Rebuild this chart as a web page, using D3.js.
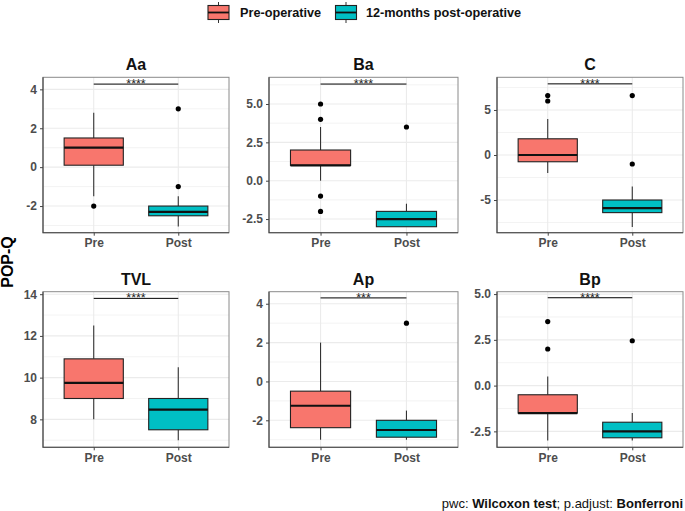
<!DOCTYPE html>
<html><head><meta charset="utf-8">
<script src="https://cdn.jsdelivr.net/npm/d3@7"></script>
<style>body{margin:0;background:#fff}svg{display:block;font-family:"Liberation Sans",Arial,sans-serif}</style>
</head><body><svg id="c" width="685" height="511"></svg>
<script>
// ---- data ----
const panelNames = ["Aa","Ba","C","TVL","Ap","Bp"];
const groups = ["Pre","Post"];
const legendLabels = ["Pre-operative","12-months post-operative"];
const colors = ["#F8766D","#00BFC4"];
// [lowerWhisker, Q1, median, Q3, upperWhisker]
const preStats = [
  [-1.5, 0.1, 1.0, 1.5, 2.8],
  [0, 1, 1, 2, 3.5],
  [-2, -0.75, 0, 1.8, 4],
  [8, 9, 9.75, 10.9, 12.5],
  [-3, -2.38, -1.25, -0.5, 2],
  [-3, -1.5, -1.5, -0.5, 0.5]
];
const postStats = [
  [-3.05, -2.5, -2.3, -2, -1.5],
  [-3, -3, -2.5, -2, -1.5],
  [-8, -6.4, -5.9, -5, -3.5],
  [7, 7.5, 8.47, 9, 10.5],
  [-3, -2.87, -2.5, -2, -1.5],
  [-3, -2.85, -2.5, -2, -1.5]
];
const preOutliers = [[-2],[5,4,-1,-2],[6,6.6],[],[],[3.5,2]];
const postOutliers = [[3,-1],[3.5],[6.6,-1],[],[3],[2.45]];
const yDomains = [[-3.37,4.62],[-3.39,6.74],[-8.63,8.63],[6.66,14.12],[-3.39,4.62],[-3.37,5.13]];
const yTicks = [[-2,0,2,4],[-2.5,0,2.5,5],[-5,0,5],[8,10,12,14],[-2,0,2,4],[-2.5,0,2.5,5]];
const tickFormats = ["d",".1f","d","d","d",".1f"];
const bracketY = [4.27, 6.3, 7.9, 13.8, 4.3, 4.8];
const sigLabels = ["****","****","****","****","***","****"];
const yTitle = "POP-Q";

// ---- layout ----
const svg = d3.select("#c");
const cols = [[43,229],[269,458],[497,683]];
const rows = [[77.3,232.7],[291.7,447.3]];
const grey = "#4D4D4D";

panelNames.forEach((name,i)=>{
  const [x0,x1] = cols[i%3], [y0,y1] = rows[Math.floor(i/3)];
  const x = d3.scaleLinear().domain([0.4,2.6]).range([x0,x1]);
  const y = d3.scaleLinear().domain(yDomains[i]).range([y1,y0]);
  const g = svg.append("g");
  // minor grid
  const t = yTicks[i], step = t[1]-t[0];
  const minor = [];
  for (let v = t[0]-step/2; v <= yDomains[i][1]; v += step) if (v >= yDomains[i][0]) minor.push(v);
  g.selectAll(".mn").data(minor).join("line")
    .attr("x1",x0).attr("x2",x1).attr("y1",d=>y(d)).attr("y2",d=>y(d))
    .attr("stroke","#EBEBEB").attr("stroke-width",0.6);
  g.selectAll(".mj").data(t).join("line")
    .attr("x1",x0).attr("x2",x1).attr("y1",d=>y(d)).attr("y2",d=>y(d))
    .attr("stroke","#EBEBEB").attr("stroke-width",1.1);
  g.selectAll(".vx").data([1,2]).join("line")
    .attr("x1",d=>x(d)).attr("x2",d=>x(d)).attr("y1",y0).attr("y2",y1)
    .attr("stroke","#EBEBEB").attr("stroke-width",1.1);
  // boxes
  [preStats[i], postStats[i]].forEach((s,k)=>{
    const cx = x(k+1), hw = (x(1.35)-x(1));
    g.append("line").attr("x1",cx).attr("x2",cx).attr("y1",y(s[0])).attr("y2",y(s[1]))
      .attr("stroke","#333").attr("stroke-width",1.1);
    g.append("line").attr("x1",cx).attr("x2",cx).attr("y1",y(s[3])).attr("y2",y(s[4]))
      .attr("stroke","#333").attr("stroke-width",1.1);
    g.append("rect").attr("x",cx-hw).attr("width",2*hw)
      .attr("y",y(s[3])).attr("height",Math.max(0,y(s[1])-y(s[3])))
      .attr("fill",colors[k]).attr("stroke","#222").attr("stroke-width",1.1);
    g.append("line").attr("x1",cx-hw).attr("x2",cx+hw).attr("y1",y(s[2])).attr("y2",y(s[2]))
      .attr("stroke","#111").attr("stroke-width",2.2);
    const outs = k===0 ? preOutliers[i] : postOutliers[i];
    g.selectAll(null).data(outs).join("circle")
      .attr("cx",cx).attr("cy",d=>y(d)).attr("r",2.6).attr("fill","#000");
  });
  // bracket
  g.append("line").attr("x1",x(1)).attr("x2",x(2)).attr("y1",y(bracketY[i])).attr("y2",y(bracketY[i]))
    .attr("stroke","#000").attr("stroke-width",1);
  g.append("text").attr("x",(x(1)+x(2))/2).attr("y",y(bracketY[i])+4)
    .attr("text-anchor","middle").attr("font-size",12.5).attr("fill","#222").text(sigLabels[i]);
  // border
  g.append("rect").attr("x",x0).attr("y",y0).attr("width",x1-x0).attr("height",y1-y0)
    .attr("fill","none").attr("stroke","#8A8A8A").attr("stroke-width",1);
  g.append("path").attr("d",`M${x0},${y0}V${y1}H${x1}`).attr("fill","none")
    .attr("stroke","#444").attr("stroke-width",1.1);
  // axes
  const ya = d3.axisLeft(y).tickValues(t).tickFormat(d3.format(tickFormats[i])).tickSize(3).tickPadding(3);
  const yg = g.append("g").attr("transform",`translate(${x0},0)`).call(ya);
  yg.select(".domain").remove();
  yg.selectAll("line").attr("stroke","#444");
  yg.selectAll("text").attr("font-size",12).attr("font-weight","bold").attr("fill",grey)
    .attr("font-family","Liberation Sans, Arial, sans-serif").text(function(){return this.textContent.replace("−","-");});
  const xa = d3.axisBottom(x).tickValues([1,2]).tickFormat((d,j)=>groups[j]).tickSize(3).tickPadding(3);
  const xg = g.append("g").attr("transform",`translate(0,${y1})`).call(xa);
  xg.select(".domain").remove();
  xg.selectAll("line").attr("stroke","#444");
  xg.selectAll("text").attr("font-size",12).attr("font-weight","bold").attr("fill",grey)
    .attr("font-family","Liberation Sans, Arial, sans-serif");
  // title
  svg.append("text").attr("x",(x0+x1)/2).attr("y",y0-7).attr("text-anchor","middle")
    .attr("font-size",16).attr("font-weight","bold").attr("fill","#111").text(name);
});

// y title
svg.append("text").attr("transform","translate(13,262) rotate(-90)").attr("text-anchor","middle")
  .attr("font-size",16).attr("font-weight","bold").attr("fill","#000").text(yTitle);

// legend
const legX = [208, 335.5], legTextX = [240, 366];
legendLabels.forEach((lab,k)=>{
  const lg = svg.append("g");
  const kx = legX[k], cx = kx+10.5;
  lg.append("line").attr("x1",cx).attr("x2",cx).attr("y1",2).attr("y2",23).attr("stroke","#333").attr("stroke-width",1);
  lg.append("rect").attr("x",kx).attr("y",5.5).attr("width",21).attr("height",14)
    .attr("fill",colors[k]).attr("stroke","#222").attr("stroke-width",1.1);
  lg.append("line").attr("x1",kx).attr("x2",kx+21).attr("y1",12.5).attr("y2",12.5).attr("stroke","#111").attr("stroke-width",1.8);
  lg.append("text").attr("x",legTextX[k]).attr("y",17).attr("font-size",12.7).attr("font-weight","bold")
    .attr("fill","#111").text(lab);
});

// caption
const cap = svg.append("text").attr("x",683).attr("y",508).attr("text-anchor","end").attr("font-size",13).attr("fill","#111");
cap.append("tspan").text("pwc: ");
cap.append("tspan").attr("font-weight","bold").text("Wilcoxon test");
cap.append("tspan").text("; p.adjust: ");
cap.append("tspan").attr("font-weight","bold").text("Bonferroni");
</script></body></html>
